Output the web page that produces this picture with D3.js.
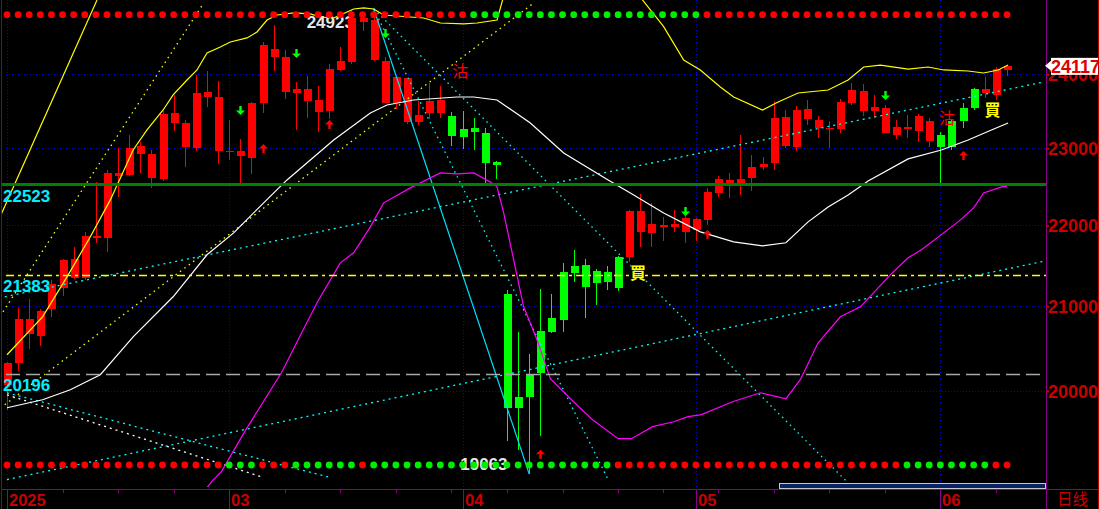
<!DOCTYPE html>
<html><head><meta charset="utf-8">
<script src="https://cdn.jsdelivr.net/npm/d3@7"></script>
<style>html,body{margin:0;padding:0;background:#000;overflow:hidden}svg{display:block}</style>
</head><body>
<svg id="c" width="1099" height="509"></svg>
<script>
// ---------------- data ----------------
const open  = [20070,20326,20668,20644,20967,21222,21345,21345,21842,21842,22635,22648,22923,22609,22596,23337,23016,23003,23688,22963,
               22950,22897,22871,23606,24240,23757,23743,23634,23485,23499,24060,24170,24734,24198,23606,23606,23350,23350,23472,23472,
               23431,23256,23270,23203,22818,21149,19931,20198,20703,20859,21418,21492,21505,21431,21418,21605,21605,21918,21905,21981,
               21981,21918,21943,22069,22415,22544,22544,22609,22753,22805,23029,23016,23391,23270,23256,23256,23606,23499,23499,23203,
               23176,23256,23230,23096,23176,23364,23539,23798,23743,23716,24060];
const high  = [20330,20979,21088,20967,21320,21580,21730,21918,22557,22714,23003,23176,23083,22976,23499,23716,23377,23990,24046,23907,
               23377,23123,23620,24451,24691,24338,23893,23976,23839,24143,24380,24906,24877,24923,24240,23970,23955,23634,23880,23839,
               23485,23499,23404,23270,22831,21198,20691,20431,21210,21149,21530,21692,21580,21455,21492,21610,22197,22402,22286,22107,
               22197,22158,22090,22480,22635,22675,23176,22910,22884,23634,23512,23566,23647,23431,23364,23661,23880,23866,23716,23579,
               23377,23445,23458,23404,23216,23391,23606,23812,23963,24101,24130];
const low   = [19783,20232,20490,20525,20871,21125,21332,21320,21780,21667,22364,22635,22675,22480,22570,23230,22753,22963,23552,22792,
               22845,22544,22662,23472,24046,23661,23243,23404,23216,23391,24046,24143,24606,24184,23600,23525,23323,23310,23391,23404,
               23029,22990,22976,22544,22596,19434,19333,19063,19490,20680,20691,21296,20859,21015,21198,21186,21542,21730,21730,21805,
               21918,21780,21805,22006,22364,22351,22389,22441,22714,22714,23003,22963,23310,23136,23003,23203,23579,23431,23404,23200,
               23123,23136,23083,23016,22544,22976,23270,23512,23675,23647,23976];
const close = [20326,20847,20847,20943,21271,21567,21580,21867,21867,22675,22675,23003,23029,22923,23458,23472,23337,23743,23757,23688,
               22963,22963,23606,24408,24352,24240,23798,23798,23647,24073,24184,24791,24791,24762,24184,23963,23949,23445,23634,23647,
               23163,23149,23216,22805,22779,19806,19806,19931,20209,20691,20835,21406,21235,21284,21296,21222,22184,22184,22018,22006,
               22018,22095,22082,22428,22596,22583,22596,22753,22792,23404,23418,23512,23525,23377,23270,23620,23784,23770,23552,23539,
               23283,23283,23431,23364,23016,23016,23364,23539,23798,24073,24117];

// month boundaries (bar index) and labels
const monthStarts = [0, 20, 41, 62, 84];
const monthLabels = ["2025", "03", "04", "05", "06"];
const weekTicks = [5,10,15,25,30,35,40,45,50,55,59,64,69,74,79,89];

// right axis ticks
const priceTicks = [20000, 21000, 22000, 23000, 24000];
const lastPrice = 24117;

// horizontal reference levels
const levels = [22523, 21383, 20196];

// band lines: [bar, value]
const upperBand = [[0,20420],[3.2,20871],[5.4,21357],[7.5,21855],[9.3,22325],[11.35,22976],[12.6,23243],[14.05,23512],[14.95,23716],[16.2,23921],
  [17.1,24060],[18,24296],[19.2,24380],[20.1,24451],[21.6,24508],[22.5,24592],[23.4,24762],[24.3,24834],[25.8,24863],[27.3,24849],[28.2,24805],
  [29.4,24791],[30.6,24877],[31.2,24920],[32.1,24935],[33,24920],[33.9,24834],[35.1,24820],[37.5,24791],[39,24720],[41.1,24706],[42.3,24720],
  [44.1,24762],[44.6,25049],[45.5,25600],[56.3,25600],[57.2,25049],[59.1,24668],[60.9,24198],[62.4,24060],[64.2,23824],[65.4,23688],[68,23512],
  [69.4,23620],[71.2,23743],[73.9,23784],[75.7,23921],[77.1,24101],[78.6,24128],[81.1,24073],[82.9,24101],[84.3,24060],[86.5,24046],[87.9,24018],
  [89.2,24060],[90.1,24128]];
const midBand = [[0,19806],[3.2,19897],[5.7,20012],[7.5,20128],[8.4,20186],[11.35,20632],[14.95,21113],[18,21630],[20.4,21905],[23.1,22287],
  [25.2,22583],[29.4,23109],[32.7,23472],[34.2,23579],[36.6,23647],[40.5,23688],[42,23688],[44.1,23647],[47.1,23337],[50.1,22937],[54.1,22583],
  [56.1,22415],[59.1,22158],[62.4,21918],[65.4,21792],[68,21742],[70.1,21780],[72.1,22044],[73.9,22235],[75.7,22389],[77.5,22570],[81.1,22858],
  [84.1,22976],[86.5,23109],[88.6,23243],[90.1,23337]];
const lowerBand = [[17.9,18900],[18.5,18992],[19.3,19090],[21.5,19557],[24.7,20209],[26.2,20597],[27.9,21040],[30,21530],[31.2,21655],[32.7,21981],
  [33.9,22287],[36.3,22480],[39,22675],[40.5,22662],[42,22675],[43.5,22557],[44.1,22493],[44.7,22158],[45.6,21567],[46.5,20991],[47.7,20597],
  [48.9,20140],[50.8,19897],[52.7,19670],[55,19456],[56.2,19456],[58.1,19591],[60,19647],[61.3,19704],[62.5,19727],[65.3,19874],[67.8,19977],
  [70.1,19908],[71.4,20128],[73,20561],[75,20871],[76.8,20991],[79.5,21381],[81.1,21592],[82.3,21692],[85.6,22044],[87,22222],[87.9,22415],
  [89.5,22493],[90,22500]];

// trend lines: endpoints [bar, value]
const cyanSolid  = [[33,24923],[47,19063]];
const cyanDotA   = [[33,24923],[54.1,19003]];
const cyanDotB   = [[33,24923],[75.7,18966]];
const cyanDotC   = [[0,19003],[93.5,21555]];
const cyanDotD   = [[-0.2,21113],[93.3,23894]];
const cyanDotE   = [[0,19977],[29.1,19025]];
const whiteDotF  = [[0,19954],[23.1,19025]];
const yellowDot1 = [[-0.36,20931],[17.7,25006]];
const yellowDot2 = [[-0.2,19840],[47.4,25006]];
const yellowSteep= [[-0.63,22107],[8.1,25049]];

// signal dot rows (run-length: colour, count)
const topSignal    = [["R",42],["G",21],["R",28]];
const bottomSignal = [["R",20],["G",3],["R",3],["G",6],["R",1],["G",22],["R",26],["G",8],["R",2]];

// arrows [bar, value at tip]
const downArrows = [[21,23445],[26,24226],[34,24507],[61,22120],[79,23647]];
const upArrows   = [[23,23056],[29,23377],[48,19333],[63,21943],[86,22963]];
// text signals [bar, value at centre]
const sellMarks = [[40.8,24046],[84.6,23404]];
const buyMarks  = [[56.8,21406],[88.7,23512]];
const highMark = [33, 24923];
const lowMark  = [47, 19063];

// ---------------- drawing ----------------
const svg = d3.select("#c");
const FONT = "'Liberation Sans', Arial, sans-serif";
const x = d3.scaleLinear().domain([0, 90]).range([7, 1007]);
const y = d3.scaleLog().domain([20000, 24000]).range([390.8, 74.3]);
const plotR = 1046, axisY = 489.5;

svg.append("rect").attr("width",1099).attr("height",509).attr("fill","#000");
svg.append("defs").append("clipPath").attr("id","clip")
  .append("rect").attr("x",2).attr("y",0).attr("width",plotR-2).attr("height",487);

const g = svg.append("g").attr("clip-path","url(#clip)");

// grid
const gridColor = "#0000e0";
g.selectAll(".hg").data(priceTicks).join("line")
  .attr("x1",6).attr("x2",plotR).attr("y1",d=>Math.round(y(d))+0.5).attr("y2",d=>Math.round(y(d))+0.5)
  .attr("stroke",gridColor).attr("stroke-dasharray","1,2");
g.selectAll(".vg").data(monthStarts).join("line")
  .attr("x1",d=>Math.round(x(d))+0.5).attr("x2",d=>Math.round(x(d))+0.5).attr("y1",0).attr("y2",axisY)
  .attr("stroke",gridColor).attr("stroke-dasharray","1,2");

const lvlColor = "#00eeff";

// high/low texts
g.append("text").attr("x",x(highMark[0])-67).attr("y",y(highMark[1])+19)
  .attr("fill","#e6e6e6").attr("font-family",FONT).attr("font-weight","bold").attr("font-size",17).text(String(highMark[1]));
g.append("text").attr("x",x(lowMark[0])-69).attr("y",y(lowMark[1])-4)
  .attr("fill","#e6e6e6").attr("font-family",FONT).attr("font-weight","bold").attr("font-size",17).text(String(lowMark[1]));

// candles
const idx = d3.range(open.length);
const col = i => close[i] >= open[i] ? "#ff0000" : "#00ff00";
const cg = g.append("g").attr("shape-rendering","crispEdges");
cg.selectAll(".wick").data(idx).join("line")
  .attr("x1",i=>Math.round(x(i))+0.5).attr("x2",i=>Math.round(x(i))+0.5)
  .attr("y1",i=>y(high[i])).attr("y2",i=>y(low[i])).attr("stroke",col).attr("stroke-width",1);
cg.selectAll(".body").data(idx).join("rect")
  .attr("x",i=>Math.round(x(i))-3.5).attr("width",8)
  .attr("y",i=>Math.min(y(open[i]),y(close[i])))
  .attr("height",i=>Math.max(1.5,Math.abs(y(open[i])-y(close[i]))))
  .attr("fill",col);

// lines
const line = d3.line().x(d=>x(d[0])).y(d=>y(d[1]));
function drawLine(data, color, width, dash){
  const p = g.append("path").attr("d",line(data)).attr("fill","none").attr("stroke",color).attr("stroke-width",width);
  if(dash) p.attr("stroke-dasharray",dash);
}
drawLine(yellowSteep,"#ffff00",1.2);
drawLine(yellowDot1,"#ffff00",1.3,"1.5,4");
drawLine(yellowDot2,"#ffff00",1.3,"1.5,4");
drawLine(cyanDotC,"#00ffff",1.3,"2,4");
drawLine(cyanDotD,"#00ffff",1.3,"2,4");
drawLine(cyanDotE,"#00ffff",1.3,"2,4");
drawLine(whiteDotF,"#ffffff",1.3,"2,4");
drawLine(cyanDotA,"#00ffff",1.3,"1.5,4");
drawLine(cyanDotB,"#00ffff",1.3,"1.5,4");
drawLine(cyanSolid,"#00e0ff",1.2);
drawLine(upperBand,"#ffff00",1.2);
drawLine(midBand,"#ffffff",1.2);
drawLine(lowerBand,"#ff00ff",1.2);

// horizontal levels
g.append("line").attr("x1",2).attr("x2",plotR).attr("y1",y(levels[0])).attr("y2",y(levels[0]))
  .attr("stroke","#008000").attr("stroke-width",3);
g.append("line").attr("x1",6).attr("x2",plotR).attr("y1",Math.round(y(levels[1]))+0.5).attr("y2",Math.round(y(levels[1]))+0.5)
  .attr("stroke","#ffff00").attr("stroke-width",1.5).attr("stroke-dasharray","8,4,3,4");
g.append("line").attr("x1",6).attr("x2",plotR).attr("y1",Math.round(y(levels[2]))+0.5).attr("y2",Math.round(y(levels[2]))+0.5)
  .attr("stroke","#a8a8a8").attr("stroke-width",1.5).attr("stroke-dasharray","14,6");
g.selectAll(".lvl").data(levels).join("text")
  .attr("x",3).attr("y",d=>y(d)+17).attr("fill",lvlColor)
  .attr("font-family",FONT).attr("font-weight","bold").attr("font-size",17).text(d=>d);

// arrows
function arrow(bar, val, up, color){
  const cx = Math.round(x(bar))+0.5, ty = y(val);
  const s = up ? 1 : -1;
  const p = `M${cx},${ty} L${cx+4.5},${ty+s*4.5} L${cx+1.2},${ty+s*4.5} L${cx+1.2},${ty+s*9} L${cx-1.2},${ty+s*9} L${cx-1.2},${ty+s*4.5} L${cx-4.5},${ty+s*4.5} Z`;
  g.append("path").attr("d",p).attr("fill",color);
}
downArrows.forEach(d=>arrow(d[0],d[1],false,"#00ff00"));
upArrows.forEach(d=>arrow(d[0],d[1],true,"#ff0000"));

// buy / sell marks
const CJK = "'Noto Sans CJK TC','Noto Sans CJK SC',sans-serif";
g.selectAll(".sell").data(sellMarks).join("text")
  .attr("x",d=>x(d[0])).attr("y",d=>y(d[1])+6).attr("text-anchor","middle")
  .attr("fill","#ff0000").attr("font-family",CJK).attr("font-size",16).text("沽");
g.selectAll(".buy").data(buyMarks).join("text")
  .attr("x",d=>x(d[0])).attr("y",d=>y(d[1])+6).attr("text-anchor","middle")
  .attr("fill","#ffff00").attr("font-family",CJK).attr("font-weight","bold").attr("font-size",16).text("買");

// signal dots
function expand(rl){ const out=[]; rl.forEach(([c,n])=>{for(let k=0;k<n;k++) out.push(c);}); return out; }
const dotCol = c => c==="R" ? "#ff0000" : "#00ee00";
g.selectAll(".td").data(expand(topSignal)).join("circle")
  .attr("cx",(d,i)=>x(i)).attr("cy",14.7).attr("r",3.4).attr("fill",dotCol);
g.selectAll(".bd").data(expand(bottomSignal)).join("circle")
  .attr("cx",(d,i)=>x(i)).attr("cy",465).attr("r",3.4).attr("fill",dotCol);

// ---------------- axes / frame ----------------
const purple = "#8a008a", axRed = "#c80000";
svg.append("line").attr("x1",1.5).attr("x2",1.5).attr("y1",0).attr("y2",509).attr("stroke","#a00000");
svg.append("line").attr("x1",1098.5).attr("x2",1098.5).attr("y1",0).attr("y2",509).attr("stroke","#c00000");
svg.append("line").attr("x1",2).attr("x2",1099).attr("y1",axisY).attr("y2",axisY).attr("stroke",purple);
svg.append("line").attr("x1",plotR+0.5).attr("x2",plotR+0.5).attr("y1",0).attr("y2",509).attr("stroke",purple);

// scrollbar
svg.append("rect").attr("x",779.5).attr("y",483.5).attr("width",266).attr("height",5)
  .attr("fill","#0a2266").attr("stroke","#c8c8c8");

// bottom axis
svg.selectAll(".mt").data(monthStarts).join("line")
  .attr("x1",d=>Math.round(x(d))+0.5).attr("x2",d=>Math.round(x(d))+0.5).attr("y1",axisY).attr("y2",509).attr("stroke",purple);
svg.selectAll(".wt").data(weekTicks).join("line")
  .attr("x1",d=>Math.round(x(d))+0.5).attr("x2",d=>Math.round(x(d))+0.5).attr("y1",axisY).attr("y2",axisY+3.5).attr("stroke",purple);
svg.selectAll(".ml").data(monthStarts).join("text")
  .attr("x",d=>Math.round(x(d))+2).attr("y",506).attr("fill",axRed)
  .attr("font-family",FONT).attr("font-weight","bold").attr("font-size",16.5)
  .text((d,i)=>monthLabels[i]);
svg.append("text").attr("x",1057).attr("y",505).attr("fill",axRed)
  .attr("font-family",CJK).attr("font-size",15.5).text("日线");

// right axis
const ra = svg.append("g").attr("transform",`translate(${plotR},0)`)
  .call(d3.axisRight(y).tickValues(priceTicks).tickSize(3).tickPadding(0).tickFormat(d3.format("d")));
ra.select(".domain").remove();
ra.selectAll("line").attr("stroke",axRed).attr("stroke-width",2);
ra.selectAll("text").attr("fill",axRed).attr("font-family",FONT).attr("font-weight","bold").attr("font-size",18)
  .attr("x",2).attr("dy","0.36em").attr("text-anchor","start");

// last price tag
const ly = y(lastPrice);
svg.append("path").attr("d",`M${plotR-1},${ly} L${plotR+5},${ly-5} L${plotR+5},${ly+5} Z`).attr("fill","#ffffff");
svg.append("rect").attr("x",plotR+5).attr("y",ly-8).attr("width",1099-plotR-6).attr("height",17).attr("fill","#ffffff");
svg.append("text").attr("x",plotR+5).attr("y",ly+7).attr("fill","#e00000")
  .attr("font-family",FONT).attr("font-weight","bold").attr("font-size",18).text(lastPrice);
</script>
</body></html>
